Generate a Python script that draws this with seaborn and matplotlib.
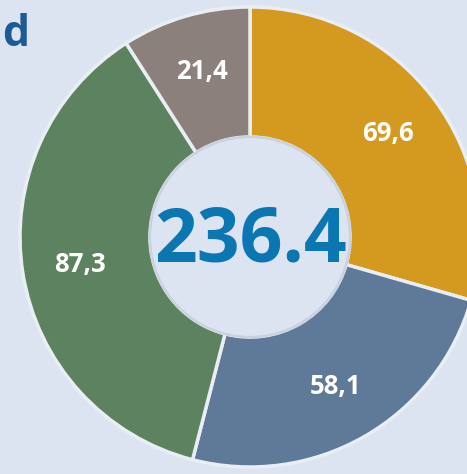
import matplotlib
matplotlib.use("Agg")
import matplotlib.pyplot as plt
import seaborn as sns

# 값 (도넛 조각)
values = [69.6, 58.1, 87.3, 21.4]
labels = ["69,6", "58,1", "87,3", "21,4"]
colors = ["#D4991F", "#5F7A99", "#5C8260", "#8C807D"]
total_label = "236.4"
title_text = "d"

sns.set_theme(style="white")
plt.rcParams['font.family'] = ['Open Sans', 'DejaVu Sans']

bg = "#DCE4F1"
fig = plt.figure(figsize=(4.67, 4.74), dpi=100, facecolor=bg)
ax = fig.add_axes([0, 0, 1, 1])
ax.set_facecolor(bg)

wedges, texts = ax.pie(values, colors=sns.color_palette(colors), startangle=90,
                       counterclock=False, radius=1.0,
                       wedgeprops=dict(width=0.565, edgecolor="#E9EEF5", linewidth=2.5),
                       labels=labels, labeldistance=0.75,
                       textprops=dict(color="white", fontsize=18.5, fontweight="bold",
                                      ha="center", va="center"))

# 중심 (250, 237) px, 바깥 반지름 230 px  (pie 가 축 범위를 바꾸므로 그 뒤에 설정)
scale = 230
ax.set_xlim(-250 / scale, (467 - 250) / scale)
ax.set_ylim(-(474 - 237) / scale, 237 / scale)
ax.set_aspect('equal')
ax.axis('off')

# 안쪽 원 테두리
inner = plt.Circle((0, 0), 0.435, fill=False, edgecolor="#C9D2DE", linewidth=2)
ax.add_patch(inner)

ax.text(0, -0.02, total_label, ha="center", va="center", fontsize=54,
        fontweight="bold", color="#0A77B3")

fig.text(2 / 467, 1 - 34 / 474, title_text, ha="left", va="center", fontsize=31,
         fontweight="bold", color="#1D5A96")

fig.savefig("out.png", dpi=100, facecolor=bg)
